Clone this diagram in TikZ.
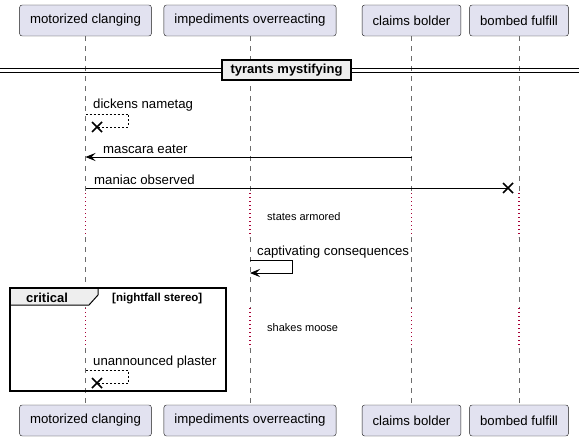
\documentclass[tikz,border=0pt]{standalone}
\usepackage{fontspec}
\setmainfont{Liberation Sans}
\usetikzlibrary{arrows.meta,calc}
\definecolor{partfill}{HTML}{E2E2F0}
\definecolor{partline}{HTML}{181818}
\definecolor{delaydot}{HTML}{A80036}
\definecolor{grpfill}{HTML}{EEEEEE}

\begin{document}
\begin{tikzpicture}[x=1pt,y=-1pt,>={Stealth[length=10pt,width=8pt,inset=4pt]},
  part/.style={draw=partline,fill=partfill,rounded corners=2.5pt,minimum height=31pt,inner xsep=10.5pt,font=\fontsize{13.2}{15}\selectfont},
  life/.style={draw=gray!85!black,dash pattern=on 5pt off 5pt,line width=0.6pt},
  delay/.style={draw=delaydot,dash pattern=on 1.2pt off 2.8pt,line width=1.2pt},
  msg/.style={anchor=west,inner sep=0pt,font=\fontsize{13.2}{15}\selectfont},
  note/.style={anchor=west,inner sep=0pt,font=\fontsize{11}{13}\selectfont},
  selfmsg/.style={line width=0.7pt,dash pattern=on 2pt off 2pt},
  kill/.style={line width=1.7pt}]
\useasboundingbox (0,0) rectangle (579,444);

% participants
\node[part] (t1) at (85.5,20.5) {motorized clanging};
\node[part] (t2) at (250,20.5) {impediments overreacting};
\node[part] (t3) at (411.5,20.5) {claims bolder};
\node[part] (t4) at (519,20.5) {bombed fulfill};
\node[part] (b1) at (85.5,420.5) {motorized clanging};
\node[part] (b2) at (250,420.5) {impediments overreacting};
\node[part] (b3) at (411.5,420.5) {claims bolder};
\node[part] (b4) at (519,420.5) {bombed fulfill};

% lifelines with delays
\foreach \i in {1,2,3,4} {
  \draw[life] (t\i.south) -- (t\i |- 0,193);
  \draw[delay] (t\i |- 0,193) -- (t\i |- 0,237);
  \draw[life] (t\i |- 0,237) -- (t\i |- 0,308);
  \draw[delay] (t\i |- 0,308) -- (t\i |- 0,348);
  \draw[life] (t\i |- 0,348) -- (b\i.north);
}

% divider
\draw[line width=0.9pt] (0,68) -- (579,68) (0,72) -- (579,72);
\node[draw,line width=1.6pt,fill=grpfill,minimum width=129pt,minimum height=20pt,inner sep=0pt,font=\bfseries\fontsize{13}{15}\selectfont] (div) at (286.5,70) {tyrants mystifying};

% dickens nametag
\node[msg] (m1) at (93,105) {dickens nametag};
\coordinate (k1) at (97,127);
\draw[selfmsg] (t1 |- 0,114) -- (128,114) -- (128,127) -- (k1);
\draw[kill] ([shift={(-5,-5)}]k1) -- ([shift={(5,5)}]k1) ([shift={(-5,5)}]k1) -- ([shift={(5,-5)}]k1);

% mascara eater
\node[msg] (m2) at (103,149) {mascara eater};
\draw[->,line width=0.8pt] (t3 |- 0,157) -- (t1 |- 0,157);

% maniac observed
\node[msg] (m3) at (94,180) {maniac observed};
\coordinate (k2) at (508,188);
\draw[line width=0.8pt] (t1 |- 0,188) -- (k2);
\draw[kill] ([shift={(-5,-5)}]k2) -- ([shift={(5,5)}]k2) ([shift={(-5,5)}]k2) -- ([shift={(5,-5)}]k2);

\node[note] (n1) at (267,217) {states armored};

% captivating consequences
\node[msg] (m4) at (257,252) {captivating consequences};
\draw[->,line width=0.8pt] (t2 |- 0,260) -- (292,260) -- (292,273) -- (t2 |- 0,273);

% critical group
\filldraw[fill=grpfill,line width=1pt] (10,288) -- (98,288) -- (98,295) -- (89,305) -- (10,305) -- cycle;
\draw[line width=1.5pt] (10,288) rectangle (226,391);
\node[font=\bfseries\fontsize{13}{15}\selectfont] (g1) at (47,297.5) {critical};
\node[note,font=\bfseries\fontsize{11.5}{13}\selectfont] (g2) at (112,298.5) {[nightfall stereo]};

\node[note] (n2) at (267,328) {shakes moose};

% unannounced plaster
\node[msg] (m5) at (93,362) {unannounced plaster};
\coordinate (k3) at (97,383);
\draw[selfmsg] (t1 |- 0,370) -- (128,370) -- (128,383) -- (k3);
\draw[kill] ([shift={(-5,-5)}]k3) -- ([shift={(5,5)}]k3) ([shift={(-5,5)}]k3) -- ([shift={(5,-5)}]k3);
\end{tikzpicture}
\end{document}
